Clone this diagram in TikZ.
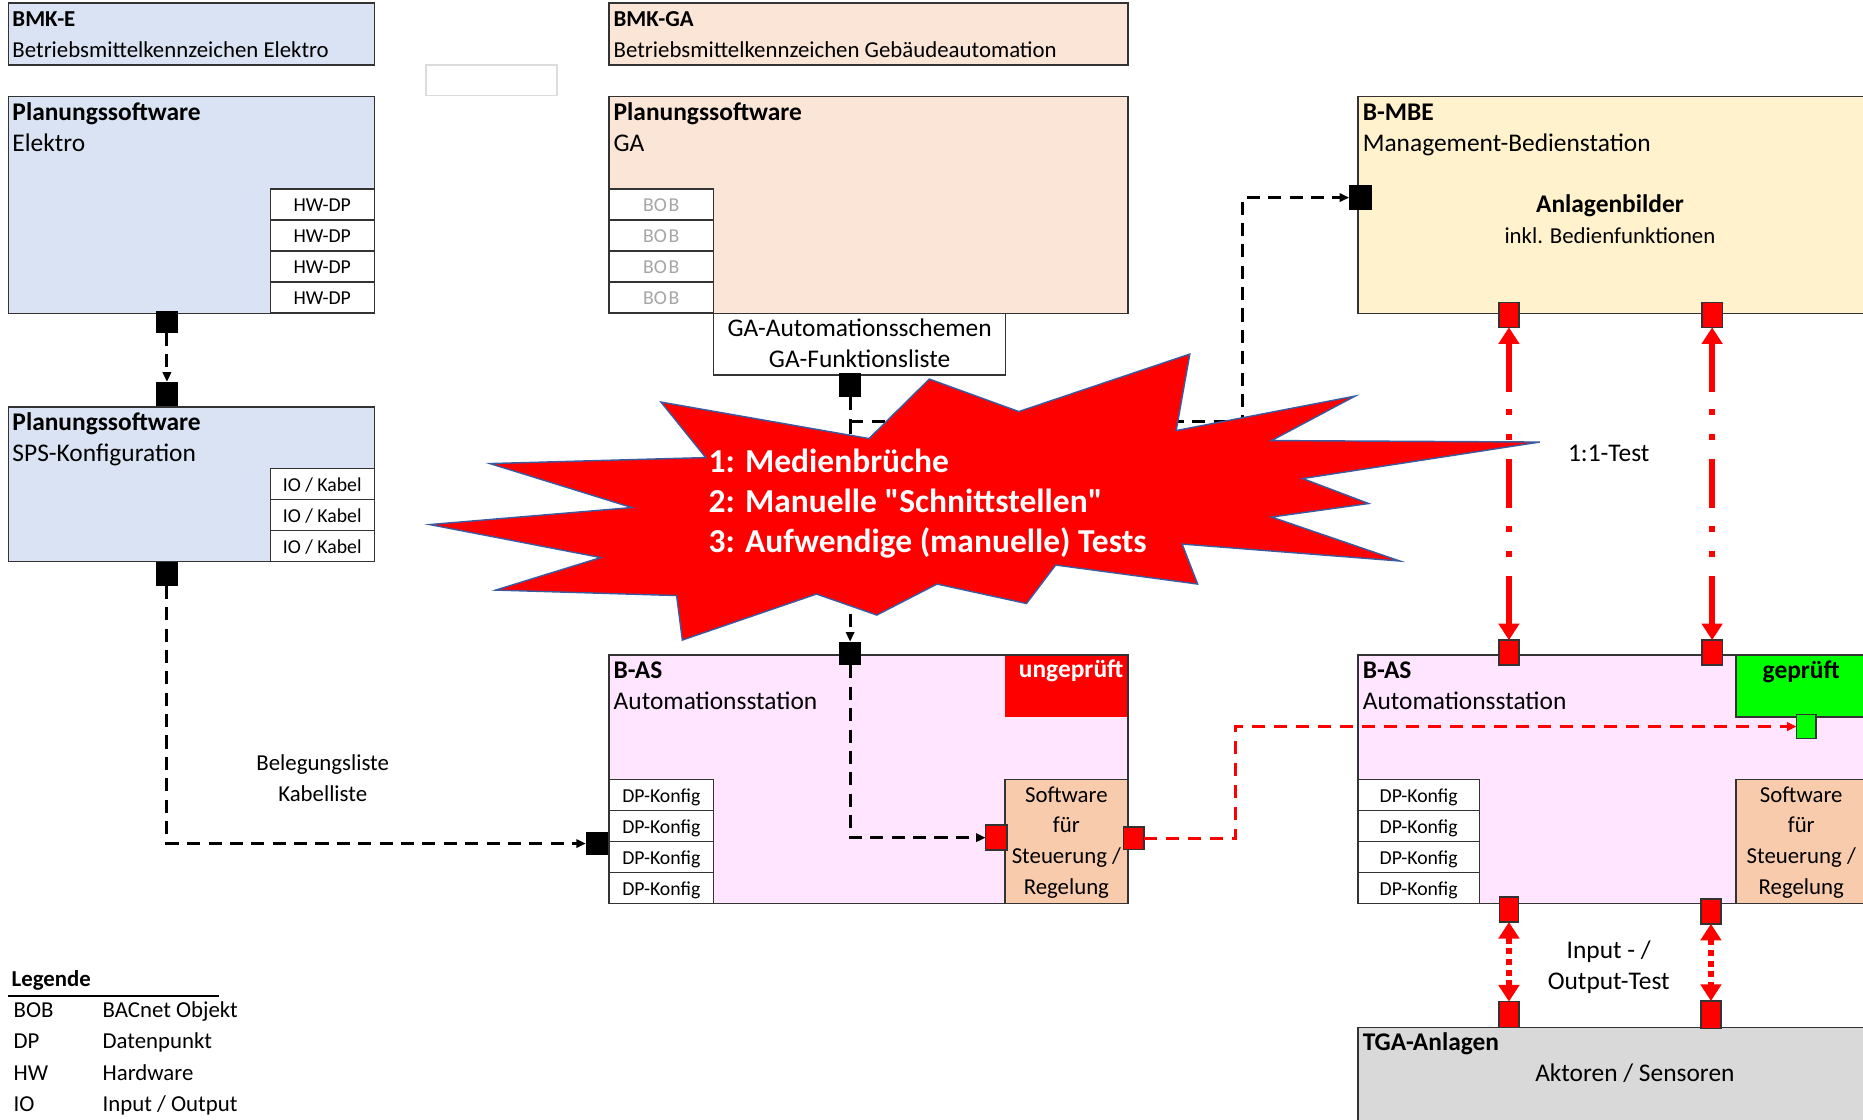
\documentclass[tikz,border=0pt]{standalone}
\usepackage{fontspec}
\setmainfont{Carlito}
\usetikzlibrary{arrows.meta}

\definecolor{elec}{HTML}{DAE3F3}
\definecolor{gafill}{HTML}{FBE5D6}
\definecolor{mbefill}{HTML}{FFF2CC}
\definecolor{asfill}{HTML}{FFE5FF}
\definecolor{swfill}{HTML}{F8CBAD}
\definecolor{tgafill}{HTML}{D9D9D9}
\definecolor{boxline}{HTML}{333333}
\definecolor{bobgray}{HTML}{A6A6A6}
\definecolor{faintline}{HTML}{DCDCDC}
\definecolor{burstline}{HTML}{3A5BA0}
\definecolor{okgreen}{HTML}{00FF00}

\newcommand\szHead{\fontsize{21.4}{25}\selectfont}
\newcommand\szMid{\fontsize{19.2}{23}\selectfont}
\newcommand\szCell{\fontsize{16.6}{20}\selectfont}
\newcommand\szBurst{\fontsize{28.2}{33}\selectfont}
% straight double quote, set as a glyph so no input mapping curls it
\newcommand\sq{\XeTeXglyph\numexpr\XeTeXcharglyph"22\relax}

\begin{document}
\begin{tikzpicture}[x=1pt, y=-1pt,
  every node/.style={inner sep=0pt, outer sep=0pt},
  panel/.style={draw=boxline, line width=1.2pt, anchor=north west},
  cell/.style={draw=boxline, line width=1.1pt, fill=white, minimum width=#1,
    minimum height=26.1pt, text height=13pt, text depth=1pt, font=\szCell},
  txt/.style={anchor=base west},
  ctxt/.style={anchor=base},
  sqB/.style={fill=black, minimum width=19pt, minimum height=20pt},
  sqR/.style={fill=red, draw=boxline, line width=1.2pt, minimum width=17pt, minimum height=21pt},
  blk/.style={draw=black, line width=2.6pt, dash pattern=on 11pt off 7pt},
  blktip/.style={-{Triangle[length=8pt,width=7pt]}},
  rdash/.style={draw=red, line width=2.8pt, dash pattern=on 11pt off 7.5pt,
    -{Triangle[length=8pt,width=7pt]}},
  onetoone/.style={draw=red, line width=5pt,
    dash pattern=on 41pt off 15pt on 5pt off 16pt on 5pt off 16pt,
    {Triangle[length=14pt,width=17pt]}-{Triangle[length=14pt,width=17pt]}},
  iotest/.style={draw=red, line width=5pt, dash pattern=on 5pt off 4pt,
    {Triangle[length=14pt,width=17pt]}-{Triangle[length=14pt,width=17pt]}}
]
\useasboundingbox (0,0) rectangle (1568,942);

% ---------- panels ----------
\node[panel, fill=elec, minimum width=308pt, minimum height=52.2pt] (bmke) at (7,2.5) {};
\node[draw=faintline, line width=1.3pt, fill=white, anchor=north west,
      minimum width=110.5pt, minimum height=25.8pt] (blank) at (358.5,54.7) {};
\node[panel, fill=gafill, minimum width=436.9pt, minimum height=52.2pt] (bmkga) at (512.5,2.5) {};

\node[panel, fill=elec, minimum width=308pt, minimum height=182.3pt] (pse) at (7,81.4) {};
\node[panel, fill=gafill, minimum width=436.9pt, minimum height=182.3pt] (psga) at (512.5,81.4) {};
\node[panel, fill=mbefill, minimum width=430pt, minimum height=182.3pt] (mbebox) at (1143,81.4) {};
\node[panel, fill=white, minimum width=245.6pt, minimum height=52pt] (gaauto) at (600.7,263.7) {};
\node[panel, fill=elec, minimum width=308pt, minimum height=130.3pt] (sps) at (7,342.5) {};

\node[panel, fill=asfill, minimum width=436.9pt, minimum height=209.1pt] (asl) at (512.5,551.3) {};
\node[panel, fill=asfill, minimum width=430pt, minimum height=209.1pt] (asr) at (1143,551.3) {};
\node[panel, fill=tgafill, minimum width=430pt, minimum height=95pt] (tga) at (1143,865) {};

% status fields
\node[fill=red, anchor=north west, minimum width=102.6pt, minimum height=51.3pt] (unchk) at (846.2,551.9) {};
\node[panel, fill=okgreen, minimum width=112pt, minimum height=52.3pt] (chk) at (1461,551.3) {};

% software blocks
\node[panel, fill=swfill, minimum width=103pt, minimum height=104.4pt] (swl) at (846,656) {};
\node[panel, fill=swfill, minimum width=112pt, minimum height=104.4pt] (swr) at (1461,656) {};

% ---------- cells ----------
\foreach \i/\y in {1/172.15, 2/198.25, 3/224.35, 4/250.45} {
  \node[cell=87.6pt] (hw\i) at (271.2,\y) {HW-DP};
  \node[cell=88.2pt, text=bobgray] (bob\i) at (556.6,\y) {BO\kern1.5pt B};
}
\foreach \i/\y in {1/407.6, 2/433.7, 3/459.8} {
  \node[cell=87.6pt] (io\i) at (271.2,\y) {IO / Kabel};
}
\foreach \i/\y in {1/669.05, 2/695.15, 3/721.25, 4/747.35} {
  \node[cell=88.2pt] (dpl\i) at (556.6,\y) {DP-Konfig};
  \node[cell=102pt] (dpr\i) at (1194,\y) {DP-Konfig};
}

% ---------- ports ----------
\node[sqB, minimum height=18pt] (pE1) at (140.5,271) {};
\node[sqB] (pE2) at (140.5,331.3) {};
\node[sqB] (pS) at (140.5,483) {};
\node[sqB, minimum width=18.5pt] (pAS1) at (502.3,710) {};
\node[sqB] (pGA) at (715.5,324.3) {};
\node[sqB] (pAS2) at (715.5,550) {};
\node[sqB, minimum height=21pt] (pMBE) at (1145,166.3) {};

\node[sqR, minimum width=18pt] (pSW1) at (838.5,705) {};
\node[sqR, minimum width=17.5pt, minimum height=19pt] (pSW2) at (954.2,705.7) {};
\node[sqR] (pM1) at (1270,265) {};
\node[sqR] (pM2) at (1441,265) {};
\node[sqR] (pA1) at (1270,549.3) {};
\node[sqR] (pA2) at (1441,549.3) {};
\node[sqR, minimum width=16pt] (pA3) at (1270,765.5) {};
\node[sqR] (pA4) at (1440,767) {};
\node[sqR, minimum height=22pt] (pT1) at (1270,854) {};
\node[sqR, minimum height=23pt] (pT2) at (1440,854) {};
\node[fill=okgreen, draw=boxline, line width=1.2pt, minimum width=16.5pt, minimum height=20pt] (pG) at (1520.3,611.5) {};

% ---------- connectors ----------
\coordinate (split) at (715.5,354.4);
\coordinate (bend) at (1045.7,354.4);
\coordinate (rbend) at (1039.6,611.5);

\draw[blk, blktip] (pE1.south) -- (pE2.north);
\draw[blk, blktip] (pS.south) |- (pAS1.west);
\draw[blk] (pGA.south) -- (split);
\draw[blk, blktip] (split) -- (pAS2.north);
\draw[blk, blktip] (split) -- (bend) |- (pMBE.west);
\draw[blk, blktip] (pAS2.south) |- (pSW1.west);
\draw[rdash] (pSW2.east) -| (rbend) -- (pG.west);

\draw[onetoone] (pM1.south) -- (pA1.north);
\draw[onetoone] (pM2.south) -- (pA2.north);
\draw[iotest] (pA3.south) -- (pT1.north);
\draw[iotest] (pA4.south) -- (pT2.north);

% ---------- explosion ----------
\begin{scope}[shift={(361.6,298)}, x={(9.344pt,0pt)}, y={(0pt,-2.407pt)}]
\filldraw[fill=red, draw=burstline, line width=1.2pt]
  (53.065,20.102) -- (68.472,0) -- (67.245,26.745) -- (83.366,14.685)
  -- (75.833,30.241) -- (100,30.764) -- (78.634,43.528) -- (84.583,52.269)
  -- (75.833,56.991) -- (87.394,72.370) -- (67.778,66.435) -- (69.176,80.417)
  -- (56.389,73.773) -- (53.759,87.231) -- (45.704,80.417) -- (40.278,91.259)
  -- (34.847,83.912) -- (22.764,100) -- (22.245,84.444) -- (5.949,82.523)
  -- (15.417,71.157) -- (0,59.616) -- (18.218,53.667) -- (5.426,38.287)
  -- (24.870,36.190) -- (20.843,16.782) -- (39.583,29.546) -- (45.009,8.736)
  -- cycle;
\end{scope}
\node[txt, text=white, font=\szBurst\bfseries] (issue1) at (596.5,397.6) {1: Medienbrüche};
\node[txt, text=white, font=\szBurst\bfseries] (issue2) at (596.5,431.2) {2: Manuelle \sq Schnittstellen\sq};
\node[txt, text=white, font=\szBurst\bfseries] (issue3) at (596.5,464.8) {3: Aufwendige (manuelle) Tests};

% ---------- labels ----------
\node[txt, font=\szMid\bfseries] (lbmke) at (10.5,22.4) {BMK-E};
\node[txt, font=\szMid] (lbmke2) at (10.5,48.3) {Betriebsmittelkennzeichen Elektro};
\node[txt, font=\szMid\bfseries] (lbmkga) at (516.5,22.4) {BMK-GA};
\node[txt, font=\szMid] (lbmkga2) at (516.5,48.3) {Betriebsmittelkennzeichen Gebäudeautomation};

\node[txt, font=\szHead\bfseries] (lpse) at (10.5,101) {Planungssoftware};
\node[txt, font=\szHead] (lpse2) at (10.5,127.5) {Elektro};
\node[txt, font=\szHead\bfseries] (lpsga) at (516.5,101) {Planungssoftware};
\node[txt, font=\szHead] (lpsga2) at (516.5,127.5) {GA};
\node[ctxt, font=\szHead] (lgaa) at (723.5,283.5) {GA-Automationsschemen};
\node[ctxt, font=\szHead] (lgaf) at (723.5,309) {GA-Funktionsliste};
\node[txt, font=\szHead\bfseries] (lsps) at (10.5,362.2) {Planungssoftware};
\node[txt, font=\szHead] (lsps2) at (10.5,388.3) {SPS-Konfiguration};

\node[txt, font=\szHead\bfseries] (lmbe) at (1147,101) {B-MBE};
\node[txt, font=\szHead] (lmbe2) at (1147,127.5) {Management-Bedienstation};
\node[ctxt, font=\szHead\bfseries] (lmbe3) at (1355,179) {Anlagenbilder};
\node[ctxt, font=\szMid] (lmbe4) at (1355,205) {inkl. Bedienfunktionen};

\node[ctxt, font=\szMid] (lbel) at (271.6,648.7) {Belegungsliste};
\node[ctxt, font=\szMid] (lkab) at (271.6,674.8) {Kabelliste};

\node[txt, font=\szHead\bfseries] (lasl) at (516.5,571) {B-AS};
\node[txt, font=\szHead] (lasl2) at (516.5,596.8) {Automationsstation};
\node[ctxt, font=\szHead\bfseries, text=white] (lunchk) at (901.5,570.5) {ungeprüft};
\node[ctxt, font=\szMid] (lswl1) at (897.5,675) {Software};
\node[ctxt, font=\szMid] (lswl2) at (897.5,701) {für};
\node[ctxt, font=\szMid] (lswl3) at (897.5,727) {Steuerung /};
\node[ctxt, font=\szMid] (lswl4) at (897.5,753) {Regelung};

\node[txt, font=\szHead\bfseries] (lasr) at (1147,571) {B-AS};
\node[txt, font=\szHead] (lasr2) at (1147,596.8) {Automationsstation};
\node[ctxt, font=\szHead\bfseries] (lchk) at (1516,570.7) {geprüft};
\node[ctxt, font=\szMid] (lswr1) at (1516,675) {Software};
\node[ctxt, font=\szMid] (lswr2) at (1516,701) {für};
\node[ctxt, font=\szMid] (lswr3) at (1516,727) {Steuerung /};
\node[ctxt, font=\szMid] (lswr4) at (1516,753) {Regelung};

\node[ctxt, font=\szHead] (ltest) at (1354,388.6) {1:1-Test};
\node[ctxt, font=\szHead] (lio1) at (1354,806.7) {Input - /};
\node[ctxt, font=\szHead] (lio2) at (1354,832.5) {Output-Test};

\node[txt, font=\szHead\bfseries] (ltga) at (1147,884) {TGA-Anlagen};
\node[ctxt, font=\szHead] (ltga2) at (1376,910.5) {Aktoren / Sensoren};

% ---------- legend ----------
\node[txt, font=\szMid\bfseries] (leg) at (9.8,830.5) {Legende};
\coordinate (legL) at (7,838.4);
\coordinate (legR) at (184,838.4);
\draw[line width=1.3pt] (legL) -- (legR);
\node[txt, font=\szMid] (legk1) at (11.5,856) {BOB};
\node[txt, font=\szMid] (legd1) at (86.4,856) {BACnet Objekt};
\node[txt, font=\szMid] (legk2) at (11.5,882.5) {DP};
\node[txt, font=\szMid] (legd2) at (86.4,882.5) {Datenpunkt};
\node[txt, font=\szMid] (legk3) at (11.5,909) {HW};
\node[txt, font=\szMid] (legd3) at (86.4,909) {Hardware};
\node[txt, font=\szMid] (legk4) at (11.5,935.5) {IO};
\node[txt, font=\szMid] (legd4) at (86.4,935.5) {Input / Output};
\end{tikzpicture}
\end{document}
